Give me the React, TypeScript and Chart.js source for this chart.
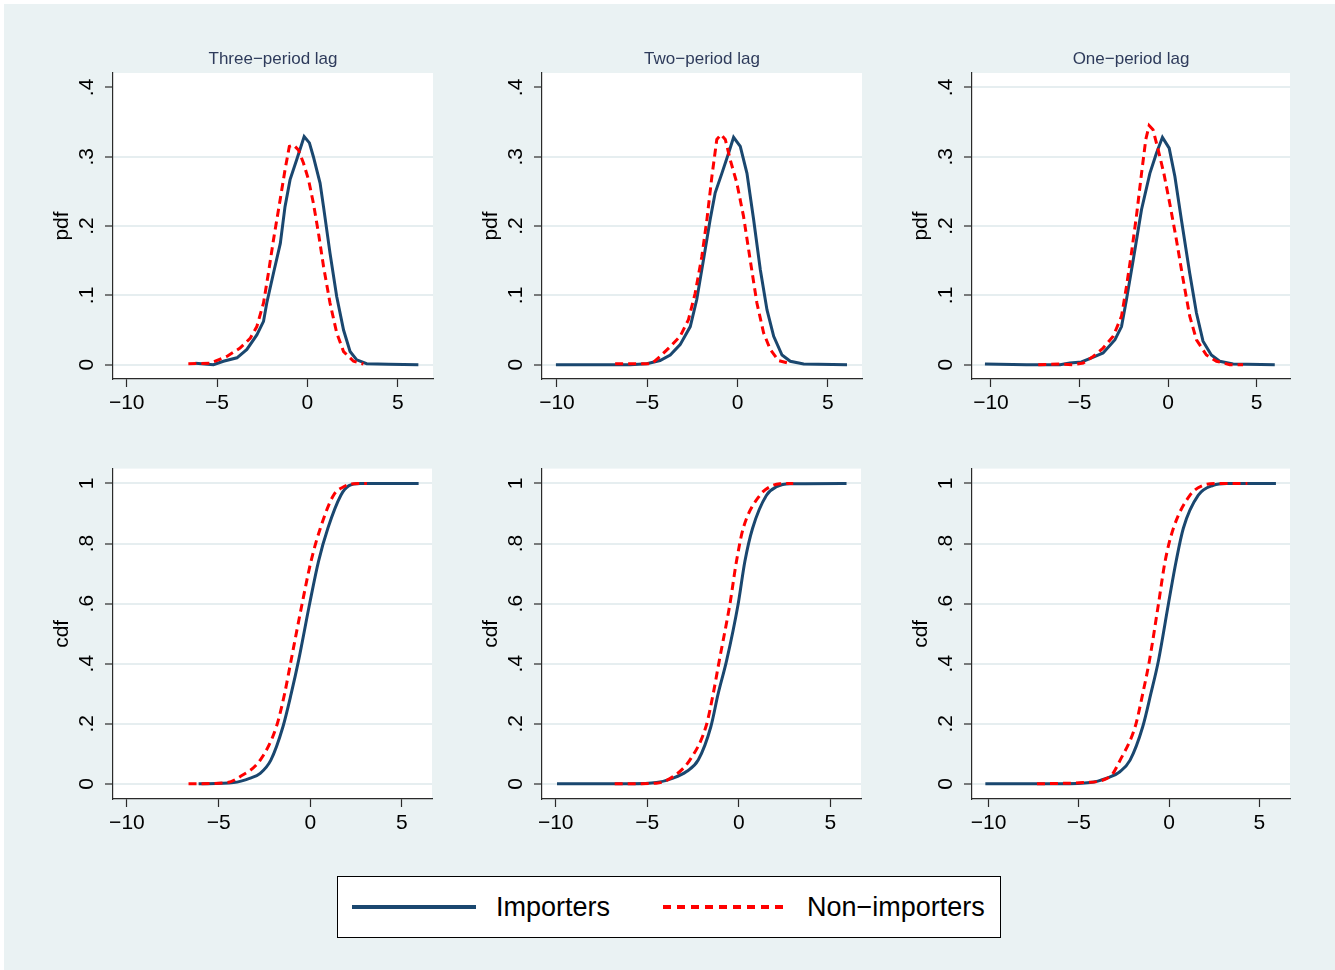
import React, { useEffect, useRef } from 'react';
import { Chart, registerables } from 'chart.js';

Chart.register(...registerables);

const FONT = '"Liberation Sans", Arial, Helvetica, sans-serif';
const NAVY = '#1a476f';
const RED = '#ff0000';
const BG = '#eaf2f3';
const GRID = '#e6eef0';
const AXIS = '#2a2a2a';
const TITLE_COLOR = '#2e3b5b';

const panelTitles = ['Three−period lag', 'Two−period lag', 'One−period lag'];
const seriesNames = ['Importers', 'Non−importers'];
const xTickValues = [-10, -5, 0, 5];
const xTickLabels = ['−10', '−5', '0', '5'];
const pdfTickValues = [0, 0.1, 0.2, 0.3, 0.4];
const pdfTickLabels = ['0', '.1', '.2', '.3', '.4'];
const cdfTickValues = [0, 0.2, 0.4, 0.6, 0.8, 1];
const cdfTickLabels = ['0', '.2', '.4', '.6', '.8', '1'];

// ---- PDF: three-period lag ----
const pdf3ImpX = [-6.2, -5.2, -4.65, -3.9, -3.35, -2.8, -2.43, -2.25, -1.88, -1.5, -1.24, -0.96, -0.59, -0.18, 0.11, 0.33, 0.7, 0.89, 1.25, 1.62, 2.0, 2.36, 2.73, 3.28, 4.5, 6.14];
const pdf3ImpY = [0.002, 0.0, 0.005, 0.01, 0.022, 0.043, 0.0625, 0.089, 0.132, 0.175, 0.228, 0.267, 0.296, 0.329, 0.32, 0.3, 0.262, 0.228, 0.161, 0.0985, 0.05, 0.019, 0.007, 0.0015, 0.0005, 0.0];
const pdf3NonX = [-6.59, -5.4, -4.46, -3.73, -3.17, -2.8, -2.43, -2.16, -1.88, -1.51, -1.24, -1.0, -0.77, -0.5, -0.22, 0.06, 0.33, 0.61, 0.89, 1.25, 1.62, 2.0, 2.55, 3.1];
const pdf3NonY = [0.0015, 0.002, 0.012, 0.024, 0.038, 0.055, 0.089, 0.132, 0.18, 0.238, 0.281, 0.315, 0.317, 0.31, 0.291, 0.267, 0.233, 0.19, 0.142, 0.089, 0.046, 0.019, 0.005, 0.001];

// ---- PDF: two-period lag ----
const pdf2ImpX = [-10.06, -5.95, -5.03, -4.29, -3.73, -3.18, -2.62, -2.26, -1.89, -1.52, -1.24, -0.87, -0.5, -0.22, 0.15, 0.52, 0.89, 1.26, 1.63, 2.0, 2.46, 2.92, 3.66, 6.06];
const pdf2ImpY = [0, 0, 0.0015, 0.006, 0.014, 0.029, 0.055, 0.094, 0.151, 0.209, 0.248, 0.276, 0.305, 0.328, 0.315, 0.276, 0.209, 0.137, 0.079, 0.041, 0.014, 0.005, 0.001, 0];
const pdf2NonX = [-6.78, -5.21, -4.75, -4.29, -3.73, -3.18, -2.72, -2.35, -1.98, -1.7, -1.42, -1.15, -0.92, -0.68, -0.41, -0.04, 0.33, 0.7, 1.07, 1.44, 1.81, 2.27, 2.92];
const pdf2NonY = [0.0015, 0.0015, 0.0015, 0.012, 0.026, 0.041, 0.065, 0.103, 0.156, 0.209, 0.272, 0.325, 0.332, 0.325, 0.296, 0.262, 0.214, 0.151, 0.089, 0.046, 0.022, 0.006, 0.0015];

// ---- PDF: one-period lag ----
const pdf1ImpX = [-10.34, -7.99, -6.1, -5.55, -4.89, -4.32, -3.67, -3.0, -2.63, -2.35, -1.97, -1.5, -1.03, -0.66, -0.32, 0.06, 0.38, 0.75, 1.22, 1.6, 1.97, 2.44, 2.91, 3.67, 6.02];
const pdf1ImpY = [0.001, 0, 0, 0.0025, 0.004, 0.01, 0.017, 0.036, 0.055, 0.094, 0.151, 0.224, 0.276, 0.305, 0.328, 0.3125, 0.272, 0.209, 0.132, 0.0745, 0.034, 0.014, 0.005, 0.001, 0];
const pdf1NonX = [-7.33, -6.1, -5.36, -4.79, -4.23, -3.67, -3.1, -2.63, -2.35, -2.07, -1.79, -1.5, -1.26, -1.07, -0.85, -0.56, -0.24, 0.09, 0.47, 0.85, 1.22, 1.6, 2.16, 2.73, 3.48, 4.23];
const pdf1NonY = [0, 0.001, 0, 0.0025, 0.012, 0.024, 0.041, 0.07, 0.113, 0.161, 0.214, 0.276, 0.325, 0.345, 0.339, 0.31, 0.276, 0.233, 0.18, 0.1225, 0.07, 0.036, 0.014, 0.005, 0, 0];

// ---- CDF: three-period lag ----
const cdf3ImpX = [-6.09, -4.18, -3.27, -2.73, -2.15, -1.49, -1.04, -0.64, -0.04, 0.45, 0.96, 1.67, 2.09, 2.73, 5.91];
const cdf3ImpY = [0, 0.004, 0.019, 0.035, 0.079, 0.19, 0.3, 0.41, 0.598, 0.741, 0.851, 0.961, 0.992, 1.0, 1.0];
const cdf3NonX = [-6.64, -4.55, -3.82, -2.73, -1.85, -1.4, -1.05, -0.45, 0.04, 0.55, 1.27, 1.82, 2.36, 3.09];
const cdf3NonY = [0, 0.004, 0.024, 0.079, 0.19, 0.3, 0.41, 0.598, 0.741, 0.851, 0.961, 0.989, 0.999, 1.0];

// ---- CDF: two-period lag ----
const cdf2ImpX = [-9.93, -5.96, -4.5, -3.59, -2.86, -2.22, -1.53, -1.13, -0.67, -0.04, 0.33, 0.75, 1.51, 2.06, 2.79, 5.88];
const cdf2ImpY = [0, 0, 0.004, 0.019, 0.041, 0.079, 0.19, 0.3, 0.41, 0.598, 0.741, 0.851, 0.961, 0.989, 0.999, 1.0];
const cdf2NonX = [-6.78, -4.5, -3.59, -2.68, -1.8, -1.4, -1.07, -0.49, -0.13, 0.24, 1.15, 1.69, 2.24, 2.97];
const cdf2NonY = [0, 0.002, 0.024, 0.079, 0.19, 0.3, 0.41, 0.598, 0.741, 0.851, 0.961, 0.989, 0.999, 1.0];

// ---- CDF: one-period lag ----
const cdf1ImpX = [-10.18, -6.03, -4.37, -3.45, -2.71, -2.16, -1.46, -1.01, -0.59, -0.04, 0.39, 0.79, 1.62, 2.45, 3.19, 5.92];
const cdf1ImpY = [0, 0, 0.004, 0.019, 0.041, 0.079, 0.19, 0.3, 0.41, 0.598, 0.741, 0.851, 0.961, 0.994, 1.0, 1.0];
const cdf1NonX = [-7.32, -4.74, -3.27, -2.71, -1.88, -1.46, -1.09, -0.59, -0.22, 0.24, 1.16, 1.9, 2.64, 4.34];
const cdf1NonY = [0, 0.004, 0.024, 0.079, 0.19, 0.3, 0.41, 0.598, 0.741, 0.851, 0.961, 0.994, 1.0, 1.0];

// axis ranges (Stata plot-region extents)
const pdfXRange = [[-10.76, 6.95], [-10.83, 6.89], [-11.07, 6.88]];
const cdfXRange = [[-10.76, 6.64], [-10.75, 6.67], [-10.92, 6.7]];
const pdfYRange = [-0.0206, 0.4208];
const cdfYRange = [-0.0506, 1.0496];

// layout (pixels)
const colLeft = [113, 542, 972];
const pdfRight = [433, 862, 1290];
const cdfRight = [432, 861, 1290];
const ROWS = { pdf: { top: 73, bottom: 379, pad: 35 }, cdf: { top: 467, bottom: 799, pad: 20 } };
const Y_AXIS_W = 80;
const X_AXIS_H = 40;
const RIGHT_PAD = 10;

const pts = (xs: number[], ys: number[]) => xs.map((x, i) => ({ x, y: ys[i] }));

type PanelSpec = {
  kind: 'pdf' | 'cdf';
  col: number;
  title?: string;
  imp: { x: number; y: number }[];
  non: { x: number; y: number }[];
  hideTopGrid: boolean;
};

const panels: PanelSpec[] = [
  { kind: 'pdf', col: 0, title: panelTitles[0], imp: pts(pdf3ImpX, pdf3ImpY), non: pts(pdf3NonX, pdf3NonY), hideTopGrid: true },
  { kind: 'pdf', col: 1, title: panelTitles[1], imp: pts(pdf2ImpX, pdf2ImpY), non: pts(pdf2NonX, pdf2NonY), hideTopGrid: true },
  { kind: 'pdf', col: 2, title: panelTitles[2], imp: pts(pdf1ImpX, pdf1ImpY), non: pts(pdf1NonX, pdf1NonY), hideTopGrid: false },
  { kind: 'cdf', col: 0, imp: pts(cdf3ImpX, cdf3ImpY), non: pts(cdf3NonX, cdf3NonY), hideTopGrid: false },
  { kind: 'cdf', col: 1, imp: pts(cdf2ImpX, cdf2ImpY), non: pts(cdf2NonX, cdf2NonY), hideTopGrid: false },
  { kind: 'cdf', col: 2, imp: pts(cdf1ImpX, cdf1ImpY), non: pts(cdf1NonX, cdf1NonY), hideTopGrid: false },
];

const plotBg = {
  id: 'plotBg',
  beforeDraw(chart: any) {
    const { ctx, chartArea } = chart;
    ctx.save();
    ctx.fillStyle = '#ffffff';
    ctx.fillRect(chartArea.left, chartArea.top, chartArea.right - chartArea.left, chartArea.bottom - chartArea.top);
    ctx.restore();
  },
};

function Panel({ spec }: { spec: PanelSpec }) {
  const ref = useRef<HTMLCanvasElement | null>(null);
  const row = ROWS[spec.kind];
  const left = colLeft[spec.col];
  const right = spec.kind === 'pdf' ? pdfRight[spec.col] : cdfRight[spec.col];
  const cw = right - left + Y_AXIS_W + RIGHT_PAD;
  const ch = row.pad + (row.bottom - row.top) + X_AXIS_H;
  const cLeft = left - Y_AXIS_W;
  const cTop = row.top - row.pad;

  useEffect(() => {
    if (!ref.current) return;
    const isPdf = spec.kind === 'pdf';
    const xr = isPdf ? pdfXRange[spec.col] : cdfXRange[spec.col];
    const yr = isPdf ? pdfYRange : cdfYRange;
    const yVals = isPdf ? pdfTickValues : cdfTickValues;
    const yLabs = isPdf ? pdfTickLabels : cdfTickLabels;
    const topVal = yVals[yVals.length - 1];
    const chart = new Chart(ref.current, {
      type: 'line',
      data: {
        datasets: [
          {
            label: seriesNames[0],
            data: spec.imp,
            borderColor: NAVY,
            backgroundColor: NAVY,
            borderWidth: 3,
            pointRadius: 0,
            tension: 0,
            cubicInterpolationMode: isPdf ? 'default' : 'monotone',
            fill: false,
            order: 1,
          },
          {
            label: seriesNames[1],
            data: spec.non,
            borderColor: RED,
            backgroundColor: RED,
            borderWidth: 3,
            borderDash: [8, 5],
            pointRadius: 0,
            tension: 0,
            cubicInterpolationMode: isPdf ? 'default' : 'monotone',
            fill: false,
            order: 0,
          },
        ],
      },
      options: {
        animation: false,
        responsive: false,
        maintainAspectRatio: false,
        events: [],
        layout: { padding: { top: isPdf ? 0 : row.pad, right: RIGHT_PAD, bottom: 0, left: 0 } },
        plugins: {
          legend: { display: false },
          tooltip: { enabled: false },
          title: {
            display: !!spec.title,
            text: spec.title || '',
            fullSize: false,
            color: TITLE_COLOR,
            font: { family: FONT, size: 17, weight: 'normal' },
            padding: { top: 11, bottom: 35 - 11 - 20.4 },
          },
        },
        scales: {
          x: {
            type: 'linear',
            min: xr[0],
            max: xr[1],
            afterBuildTicks: (s: any) => { s.ticks = xTickValues.map((v) => ({ value: v })); },
            afterFit: (s: any) => { s.height = X_AXIS_H; },
            ticks: {
              autoSkip: false,
              maxRotation: 0,
              minRotation: 0,
              padding: 4,
              color: '#000',
              font: { family: FONT, size: 21 },
              callback: (_v: any, i: number) => xTickLabels[i],
            },
            grid: { drawOnChartArea: false, drawTicks: true, tickLength: 8, tickColor: AXIS, tickWidth: 1.2 },
            border: { display: true, color: AXIS, width: 1.2 },
          },
          y: {
            type: 'linear',
            min: yr[0],
            max: yr[1],
            afterBuildTicks: (s: any) => { s.ticks = yVals.map((v) => ({ value: v })); },
            afterFit: (s: any) => { s.width = Y_AXIS_W; },
            ticks: {
              autoSkip: false,
              minRotation: 90,
              maxRotation: 90,
              crossAlign: 'center',
              padding: 9,
              color: '#000',
              font: { family: FONT, size: 21 },
              callback: (_v: any, i: number) => yLabs[i],
            },
            grid: {
              drawOnChartArea: true,
              drawTicks: true,
              tickLength: 8,
              tickColor: AXIS,
              tickWidth: 1.2,
              lineWidth: 2,
              color: (c: any) => (spec.hideTopGrid && c.tick && c.tick.value === topVal ? 'rgba(0,0,0,0)' : GRID),
            },
            border: { display: true, color: AXIS, width: 1.2 },
            title: {
              display: true,
              text: spec.kind,
              color: '#000',
              font: { family: FONT, size: 21 },
              padding: { top: 17, bottom: 0 },
            },
          },
        },
      } as any,
      plugins: [plotBg],
    });
    return () => chart.destroy();
  }, [spec]);

  return (
    <canvas
      ref={ref}
      width={cw}
      height={ch}
      style={{ position: 'absolute', left: cLeft, top: cTop, width: cw, height: ch }}
    />
  );
}

function Legend() {
  const text: React.CSSProperties = {
    position: 'absolute',
    top: 0,
    height: 62,
    lineHeight: '60px',
    fontFamily: FONT,
    fontSize: 27,
    color: '#000',
    whiteSpace: 'nowrap',
  };
  return (
    <div
      style={{
        position: 'absolute',
        left: 337,
        top: 876,
        width: 664,
        height: 62,
        boxSizing: 'border-box',
        border: '1.5px solid #000',
        background: '#fff',
      }}
    >
      <div style={{ position: 'absolute', left: 14, top: 28, width: 124, height: 4, background: NAVY }} />
      <div style={{ ...text, left: 158 }}>{seriesNames[0]}</div>
      <div
        style={{
          position: 'absolute',
          left: 325,
          top: 28,
          width: 125,
          height: 4,
          background: `repeating-linear-gradient(to right, ${RED} 0px, ${RED} 8px, transparent 8px, transparent 14px)`,
        }}
      />
      <div style={{ ...text, left: 469 }}>{seriesNames[1]}</div>
    </div>
  );
}

export default function App() {
  return (
    <div style={{ position: 'absolute', left: 0, top: 0, width: 1335, height: 970, background: '#fff', overflow: 'hidden' }}>
      <div style={{ position: 'absolute', left: 4, top: 4, width: 1331, height: 966, background: BG }} />
      {panels.map((p, i) => (
        <Panel key={i} spec={p} />
      ))}
      <Legend />
    </div>
  );
}
